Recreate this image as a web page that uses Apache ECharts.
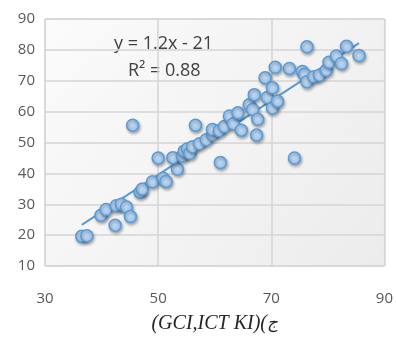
<!DOCTYPE html>
<html>
<head>
<meta charset="utf-8">
<script src="https://cdn.jsdelivr.net/npm/echarts@6/dist/echarts.min.js"></script>
<style>
  html, body { margin: 0; padding: 0; background: #fff; }
  #chart { width: 396px; height: 339px; }
</style>
</head>
<body>
<div id="chart"></div>
<script>
// GCI / ICT index scatter
const xValues = [36.5, 37.4, 42.4, 39.9, 40.8, 42.6, 43.5, 44.4, 45.1, 46.8, 47.2, 49.0, 50.9, 51.4, 53.4,
  50.0, 45.5, 52.6, 54.3, 54.6, 55.2, 55.6, 56.1, 56.6, 57.3, 58.5, 59.6, 59.6, 60.8, 61.0,
  61.7, 62.6, 63.3, 64.1, 64.7, 66.1, 66.7, 67.0, 67.6, 67.4, 68.9, 69.3, 70.2, 70.2, 71.1,
  70.7, 73.2, 74.1, 75.5, 75.9, 76.3, 76.3, 77.5, 78.5, 79.7, 80.2, 81.5, 82.4, 83.3, 85.5];
const yValues = [19.6, 19.8, 23.2, 26.4, 28.3, 29.5, 30.0, 29.1, 26.0, 33.9, 34.9, 37.3, 38.4, 37.4, 41.4,
  45.0, 55.6, 45.1, 45.6, 47.2, 48.0, 46.5, 48.6, 55.6, 49.6, 50.9, 52.6, 54.2, 53.8, 43.5,
  55.2, 58.6, 56.1, 59.6, 54.0, 62.2, 60.7, 65.5, 57.5, 52.4, 71.0, 64.6, 67.7, 61.2, 63.4,
  74.4, 74.0, 45.0, 73.0, 72.0, 69.7, 81.0, 71.3, 71.8, 73.4, 76.0, 78.0, 75.6, 81.2, 78.2];

// linear trend line end points
const trendX = [36.5, 85.5];
const trendY = [23.3, 82.2];

const equationText = 'y = 1.2x - 21';
const r2Text = 'R² = 0.88';
// axis title in two runs so the bracket stays in front of the Arabic letter
const xNameLatin = '(GCI,ICT KI)(';
const xNameArabic = 'ج';

const chart = echarts.init(document.getElementById('chart'));

const points = xValues.map((x, i) => [x, yValues[i]]);
const trend = trendX.map((x, i) => [x, trendY[i]]);

const nameFont = { color: '#262626', fontSize: 20, fontStyle: 'italic', fontFamily: 'Liberation Serif' };

chart.setOption({
  animation: false,
  grid: {
    left: 45, right: 11, top: 19, bottom: 65,
    show: true,
    backgroundColor: new echarts.graphic.LinearGradient(0, 0, 1, 1, [
      { offset: 0, color: '#fbfbfb' },
      { offset: 1, color: '#ececec' }
    ]),
    borderColor: '#d4d4d4',
    borderWidth: 1
  },
  xAxis: {
    type: 'value', min: 30, max: 90, interval: 20,
    axisLine: { show: false },
    axisTick: { show: false },
    splitLine: { lineStyle: { color: '#d4d4d4', width: 1.5 } },
    axisLabel: { color: '#595959', fontSize: 15, fontFamily: 'Open Sans', margin: 25 },
    name: '{a|' + xNameLatin + '}{b|' + xNameArabic + '}',
    nameLocation: 'middle',
    nameGap: 48,
    nameTextStyle: Object.assign({}, nameFont, {
      rich: { a: nameFont, b: Object.assign({}, nameFont, { fontSize: 17 }) }
    })
  },
  yAxis: {
    type: 'value', min: 10, max: 90, interval: 10,
    axisLine: { show: false },
    axisTick: { show: false },
    splitLine: { lineStyle: { color: '#d4d4d4', width: 1.5 } },
    axisLabel: { color: '#595959', fontSize: 15, fontFamily: 'Open Sans', margin: 10 }
  },
  graphic: [
    { type: 'text', left: 114, top: 35, style: { text: equationText, fill: '#404040', font: '18px "Open Sans"' } },
    { type: 'text', left: 128, top: 62, style: { text: r2Text, fill: '#404040', font: '18px "Open Sans"' } }
  ],
  series: [
    {
      type: 'line',
      data: trend,
      showSymbol: false,
      lineStyle: { color: '#5b9bd5', width: 2 },
      z: 2
    },
    {
      type: 'scatter',
      data: points,
      symbolSize: 12,
      itemStyle: {
        color: new echarts.graphic.RadialGradient(0.4, 0.4, 0.7, [
          { offset: 0, color: '#c5dcf5' },
          { offset: 1, color: '#92bde9' }
        ]),
        borderColor: '#5b9bd5',
        borderWidth: 1.5,
        shadowColor: 'rgba(0,0,0,0.3)',
        shadowBlur: 3,
        shadowOffsetX: 1,
        shadowOffsetY: 2,
        opacity: 1
      },
      z: 3
    }
  ]
});
</script>
</body>
</html>
